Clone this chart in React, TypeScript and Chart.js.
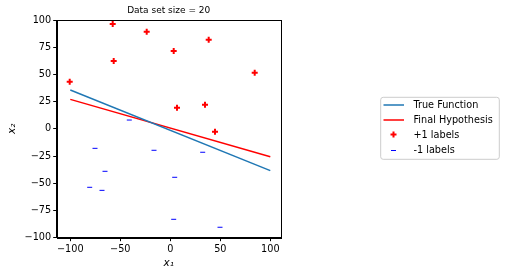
import React, { useEffect, useRef } from "react";
import { Chart, registerables } from "chart.js";
Chart.register(...registerables);

const titleText = "Data set size = 20";
const xTicks = [-100, -50, 0, 50, 100];
const yTicks = [-100, -75, -50, -25, 0, 25, 50, 75, 100];

const posX = [-57.6, -56.6, -23.6, 3.4, 38.4, -100.6, 84.4, 6.7, 34.7, 44.7];
const posY = [96.3, 62.3, 89.3, 71.5, 81.9, 43.3, 51.6, 19.4, 22.2, -2.6];
const negX = [-41, -75.3, -16.3, 32.4, -65.3, 4.4, -80.6, -68.3, 3.4, 49.7];
const negY = [8.1, -17.9, -19.7, -21.5, -39, -44.5, -53.7, -56.5, -83.1, -90.4];

const lineX = [-100, 100];
const trueY = [35.7, -38.4];
const hypY = [27.1, -25.6];

const legendLabels = ["True Function", "Final Hypothesis", "+1 labels", "-1 labels"];

const FONT = "DejaVu Sans";

export default function App() {
  const ref = useRef<HTMLCanvasElement>(null);
  useEffect(() => {
    const decor = {
      id: "decor",
      afterDraw(chart: any) {
        const ctx = chart.ctx as CanvasRenderingContext2D;
        const a = chart.chartArea;
        ctx.save();
        // frame
        ctx.strokeStyle = "#000";
        ctx.lineWidth = 1;
        ctx.strokeRect(Math.round(a.left) + 0.5, Math.round(a.top) + 0.5, Math.round(a.right) - Math.round(a.left), Math.round(a.bottom) - Math.round(a.top));
        // title
        const cx = (a.left + a.right) / 2;
        ctx.fillStyle = "#000";
        ctx.textAlign = "center";
        ctx.textBaseline = "middle";
        ctx.font = `9px '${FONT}'`;
        ctx.fillText(titleText, cx, 10.5);
        // axis labels
        ctx.font = `italic 10.5px '${FONT}'`;
        ctx.fillText("x\u2081", cx, 263);
        ctx.save();
        ctx.translate(12.7, (a.top + a.bottom) / 2);
        ctx.rotate(-Math.PI / 2);
        ctx.fillText("x\u2082", 0, 0);
        ctx.restore();
        // legend
        const lx = 380.7, ly = 97.3, lw = 118.6, lh = 62;
        ctx.beginPath();
        (ctx as any).roundRect(lx, ly, lw, lh, 2.5);
        ctx.fillStyle = "rgba(255,255,255,0.85)";
        ctx.fill();
        ctx.strokeStyle = "#cccccc";
        ctx.lineWidth = 1;
        ctx.stroke();
        const rows = [105, 120, 134.5, 150];
        // line handles
        ctx.lineWidth = 1.5;
        ctx.strokeStyle = "#1f77b4";
        ctx.beginPath(); ctx.moveTo(383.5, rows[0]); ctx.lineTo(404, rows[0]); ctx.stroke();
        ctx.strokeStyle = "#ff0000";
        ctx.beginPath(); ctx.moveTo(383.5, rows[1]); ctx.lineTo(404, rows[1]); ctx.stroke();
        // plus marker
        ctx.lineWidth = 2;
        ctx.beginPath();
        ctx.moveTo(393.5 - 3, rows[2]); ctx.lineTo(393.5 + 3, rows[2]);
        ctx.moveTo(393.5, rows[2] - 3); ctx.lineTo(393.5, rows[2] + 3);
        ctx.stroke();
        // minus marker
        ctx.strokeStyle = "#0000ff";
        ctx.lineWidth = 1;
        ctx.beginPath();
        ctx.moveTo(391, rows[3] + 0.5); ctx.lineTo(396, rows[3] + 0.5);
        ctx.stroke();
        ctx.fillStyle = "#000";
        ctx.textAlign = "left";
        ctx.font = `9.7px '${FONT}'`;
        legendLabels.forEach((t, i) => ctx.fillText(t, 413.5, rows[i] + 0.5));
        ctx.restore();
      },
    };

    const tickCommon = {
      color: "#000",
      font: { family: FONT, size: 9.7 },
      padding: 2,
      maxRotation: 0,
      autoSkip: false,
      callback: (v: any) => String(v).replace("-", "\u2212"),
    };
    const gridCommon = {
      drawOnChartArea: false,
      drawTicks: true,
      tickLength: 3.5,
      tickColor: "#000",
      tickWidth: 1,
    };

    const chart = new Chart(ref.current!, {
      type: "scatter",
      data: {
        datasets: [
          {
            label: legendLabels[0],
            data: lineX.map((x, i) => ({ x, y: trueY[i] })),
            showLine: true,
            borderColor: "#1f77b4",
            borderWidth: 1.5,
            pointRadius: 0,
          },
          {
            label: legendLabels[1],
            data: lineX.map((x, i) => ({ x, y: hypY[i] })),
            showLine: true,
            borderColor: "#ff0000",
            borderWidth: 1.5,
            pointRadius: 0,
          },
          {
            label: legendLabels[2],
            data: posX.map((x, i) => ({ x, y: posY[i] })),
            pointStyle: "cross",
            pointRadius: 3,
            borderColor: "#ff0000",
            backgroundColor: "#ff0000",
            borderWidth: 2,
          },
          {
            label: legendLabels[3],
            data: negX.map((x, i) => ({ x, y: negY[i] })),
            pointStyle: "line",
            pointRadius: 2.5,
            borderColor: "#0000ff",
            backgroundColor: "#0000ff",
            borderWidth: 1,
          },
        ],
      } as any,
      options: {
        responsive: false,
        animation: false,
        layout: { padding: { top: 20, right: 224.3, left: 0, bottom: 0 } },
        plugins: { legend: { display: false }, tooltip: { enabled: false }, title: { display: false } },
        scales: {
          x: {
            type: "linear",
            min: -113.6,
            max: 110.4,
            afterBuildTicks: (s: any) => { s.ticks = xTicks.map((v) => ({ value: v })); },
            afterFit: (s: any) => { s.height = 39.3; },
            ticks: tickCommon,
            grid: gridCommon,
            border: { display: true, color: "#000", width: 1 },
          },
          y: {
            type: "linear",
            min: -100,
            max: 100,
            afterBuildTicks: (s: any) => { s.ticks = yTicks.map((v) => ({ value: v })); },
            afterFit: (s: any) => { s.width = 56.7; },
            ticks: tickCommon,
            grid: gridCommon,
            border: { display: true, color: "#000", width: 1 },
          },
        },
      } as any,
      plugins: [decor],
    });
    return () => chart.destroy();
  }, []);
  return (
    <div style={{ position: "fixed", left: 0, top: 0, width: 505, height: 277, background: "#fff" }}>
      <canvas ref={ref} width={505} height={277} style={{ width: 505, height: 277, display: "block" }} />
    </div>
  );
}
